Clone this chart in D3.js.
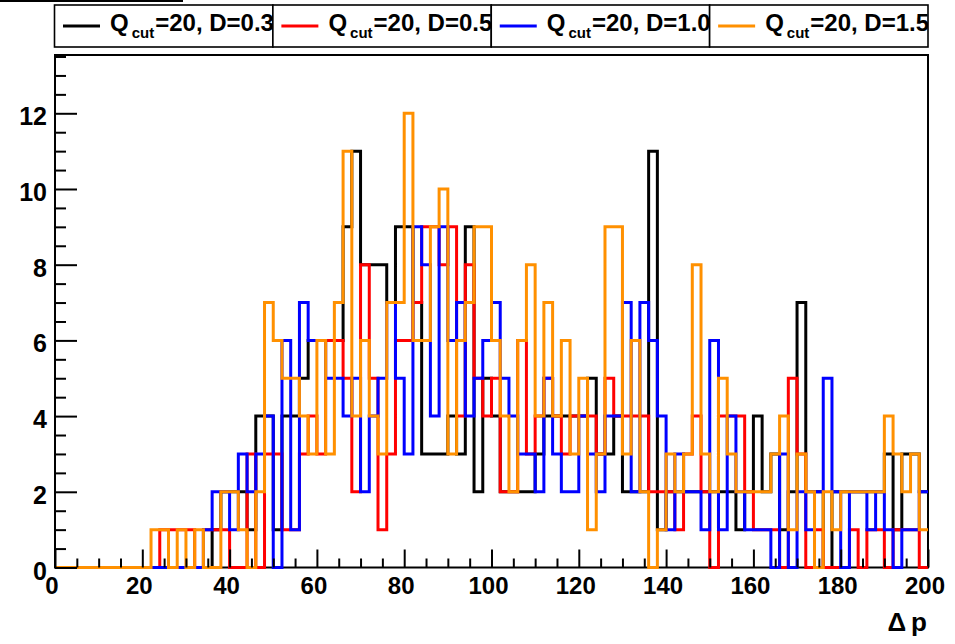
<!DOCTYPE html>
<html><head><meta charset="utf-8">
<script src="https://cdn.jsdelivr.net/npm/d3@7"></script>
<style>
body{margin:0;background:#fff;}
svg{display:block;font-family:"Liberation Sans",Arial,Helvetica,sans-serif;font-weight:bold;}
</style></head>
<body>
<svg id="c" width="955" height="644"></svg>
<script>
// bins of width 2 from 0 to 200 (100 bins)
const binEdges = d3.range(0, 201, 2);
const xTickLabels = [0,20,40,60,80,100,120,140,160,180,200];
const yTickLabels = [0,2,4,6,8,10,12];
const legendLabels = ["0.3","0.5","1.0","1.5"];
const seriesColors = ["#000000","#ff0000","#0000ff","#ff9000"];

const blackD03 = [0,0,0,0,0,0,0,0,0,0, 0,0,0,0,0,0,0,0,1,2, 2,2,1,4,4,1,4,4,5,6,
 6,6,6,9,11,8,8,8,7,9, 9,7,3,3,3,4,3,9,2,5, 4,2,2,2,2,3,4,4,4,4,
 4,5,3,3,4,2,2,2,11,1, 2,2,2,2,2,2,2,2,1,2, 4,2,3,1,2,7,2,2,0,2,
 2,2,2,2,2,3,1,3,3,2];
const redD05 = [0,0,0,0,0,0,0,0,0,0, 0,0,1,1,1,1,0,1,1,1, 0,0,3,0,3,3,1,1,3,4,
 3,6,6,5,2,8,5,1,3,6, 6,7,9,9,8,9,4,8,5,4, 5,2,2,6,3,4,5,4,3,4,
 4,4,3,5,4,4,4,4,2,2, 2,1,3,4,2,0,4,4,4,2, 1,1,1,0,5,3,0,1,0,0,
 0,1,0,1,1,0,1,1,1,0];
const blueD10 = [0,0,0,0,0,0,0,0,0,0, 0,0,0,0,0,0,0,1,2,2, 1,3,2,3,4,0,6,1,7,6,
 6,5,5,4,5,2,4,5,7,5, 3,9,8,4,9,6,7,4,5,6, 7,5,4,3,3,2,5,3,2,2,
 4,3,2,4,4,7,2,7,6,4, 1,3,2,2,1,6,1,4,2,1, 1,1,0,3,0,2,1,2,5,2,
 0,2,2,1,2,1,0,1,1,2];
const orangeD15 = [0,0,0,0,0,0,0,0,0,0, 0,1,1,0,1,0,1,0,0,2, 2,1,0,2,7,6,5,5,4,3,
 6,3,7,11,4,6,4,3,7,7, 12,6,6,9,10,3,6,7,9,9, 6,4,2,6,8,4,7,4,6,3,
 5,1,3,9,9,3,6,2,0,1, 3,2,3,8,3,2,5,3,2,2, 2,2,3,4,1,3,2,0,2,1,
 2,2,2,2,2,4,3,2,3,1];
const seriesValues = [blackD03, redD05, blueD10, orangeD15];

const svg = d3.select("#c");
const L = 55, R = 928, T = 55, B = 567.5;
const x = d3.scaleLinear().domain([0,200]).range([L,R]);
const y = d3.scaleLinear().domain([0,13.54]).range([B,T]);

// top-left title remnant line
svg.append("line").attr("x1",0).attr("x2",183).attr("y1",1).attr("y2",1)
  .attr("stroke","#000").attr("stroke-width",2);

// frame
svg.append("rect").attr("x",L).attr("y",T).attr("width",R-L).attr("height",B-T)
  .attr("fill","#fff").attr("stroke","#000").attr("stroke-width",2);

// histograms
const line = d3.line().x(d=>x(d[0])).y(d=>y(d[1])).curve(d3.curveStepAfter);
seriesValues.forEach((vals,k)=>{
  const pts = vals.map((v,i)=>[binEdges[i], v]);
  pts.push([binEdges[binEdges.length-1], vals[vals.length-1]]);
  svg.append("path").attr("d", line(pts)).attr("fill","none")
    .attr("stroke", seriesColors[k]).attr("stroke-width",3)
    .attr("stroke-linejoin","miter").attr("stroke-linecap","butt");
});

// axes with ticks pointing inward
const xAxis = d3.axisTop(x).tickValues(xTickLabels).tickSize(18).tickFormat("");
const xMinor = d3.axisTop(x).tickValues(d3.range(0,201,5).filter(v=>v%20!==0)).tickSize(9).tickFormat("");
const gx = svg.append("g").attr("transform",`translate(0,${B})`).call(xAxis);
const gxm = svg.append("g").attr("transform",`translate(0,${B})`).call(xMinor);
const yAxis = d3.axisRight(y).tickValues(yTickLabels).tickSize(22).tickFormat("");
const yMinor = d3.axisRight(y).tickValues(d3.range(0,13.6,0.5).filter(v=>v%2!==0)).tickSize(11).tickFormat("");
const gy = svg.append("g").attr("transform",`translate(${L},0)`).call(yAxis);
const gym = svg.append("g").attr("transform",`translate(${L},0)`).call(yMinor);
[gx,gxm,gy,gym].forEach(g=>{
  g.select(".domain").remove();
  g.selectAll(".tick line").attr("stroke","#000").attr("stroke-width",2);
});

// tick labels
svg.append("g").selectAll("text").data(xTickLabels).join("text")
  .attr("x",d=>x(d)-3).attr("y",594).attr("text-anchor","middle")
  .attr("font-size",24).attr("fill","#000").text(d=>d);
svg.append("g").selectAll("text").data(yTickLabels).join("text")
  .attr("x",47).attr("y",d=>y(d)+12).attr("text-anchor","end")
  .attr("font-size",25).attr("fill","#000").text(d=>d);

// axis title
const at = svg.append("text").attr("x",927).attr("y",631).attr("text-anchor","end")
  .attr("font-size",26).attr("fill","#000");
at.append("tspan").text("\u0394");
at.append("tspan").attr("dx",5).text("p");

// legend
const boxW = (R - 54.5) / 4;
legendLabels.forEach((lab,k)=>{
  const x0 = 54.5 + k*boxW;
  const clipId = "clip"+k;
  svg.append("clipPath").attr("id",clipId).append("rect")
    .attr("x",x0).attr("y",5).attr("width",boxW).attr("height",42);
  svg.append("rect").attr("x",x0).attr("y",5).attr("width",boxW).attr("height",42)
    .attr("fill","#fff").attr("stroke","#000").attr("stroke-width",1.6);
  const g = svg.append("g").attr("clip-path",`url(#${clipId})`);
  g.append("line").attr("x1",x0+8.5).attr("x2",x0+45.5).attr("y1",26).attr("y2",26)
    .attr("stroke",seriesColors[k]).attr("stroke-width",3);
  const t = g.append("text").attr("x",x0+55.5).attr("y",31).attr("font-size",24).attr("fill","#000");
  t.append("tspan").text("Q");
  t.append("tspan").attr("font-size",15).attr("dx",3).attr("dy",7).text("cut");
  t.append("tspan").attr("dy",-7).attr("dx",1).text("=20, D="+lab);
});
</script>
</body></html>
